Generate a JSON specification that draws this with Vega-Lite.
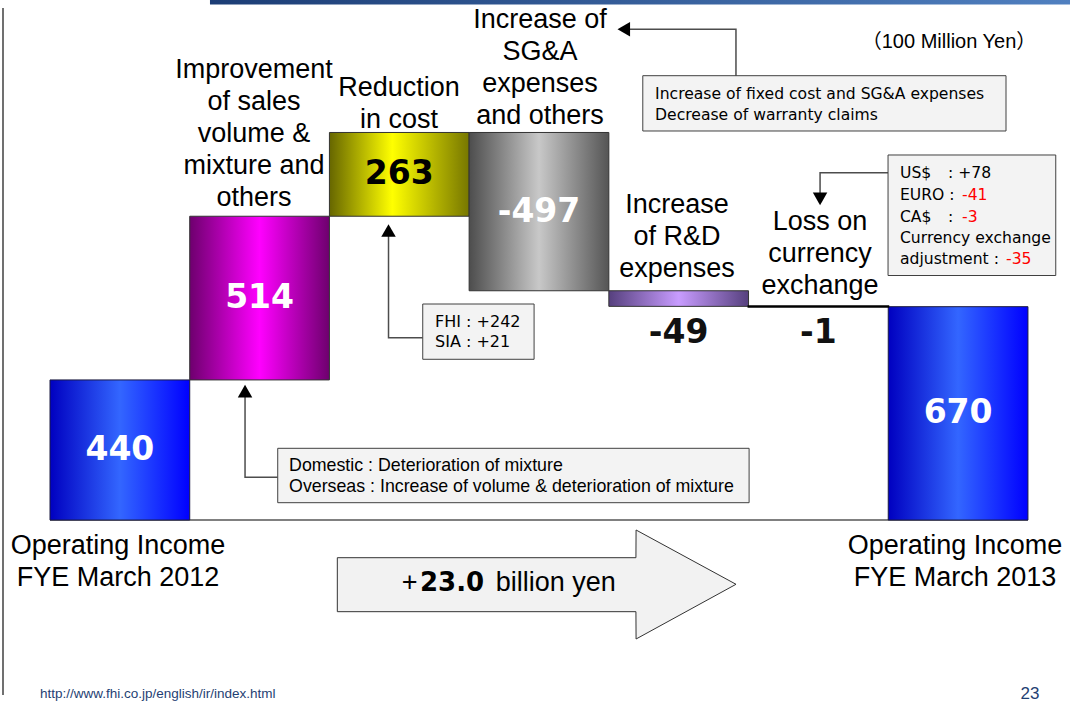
{
  "$schema": "https://vega.github.io/schema/vega-lite/v6.json",
  "width": 1070,
  "height": 707,
  "autosize": {"type": "fit", "contains": "padding"},
  "padding": 0,
  "background": "white",
  "config": {"view": {"stroke": null}},
  "datasets": {
    "bars": [
      {"step": 0, "name": "Operating Income FYE March 2012", "start": 0, "end": 440, "label": "440"},
      {"step": 1, "name": "Improvement of sales volume & mixture and others", "start": 440, "end": 954, "label": "514"},
      {"step": 2, "name": "Reduction in cost", "start": 954, "end": 1217, "label": "263"},
      {"step": 3, "name": "Increase of SG&A expenses and others", "start": 1217, "end": 720, "label": "-497"},
      {"step": 4, "name": "Increase of R&D expenses", "start": 720, "end": 671, "label": "-49"},
      {"step": 5, "name": "Loss on currency exchange", "start": 671, "end": 670, "label": "-1"},
      {"step": 6, "name": "Operating Income FYE March 2013", "start": 0, "end": 670, "label": "670"}
    ],
    "catLabels": [
      {"t": "Improvement\nof sales\nvolume &\nmixture and\nothers", "x": 1.46, "y": 1413.2},
      {"t": "Reduction\nin cost", "x": 2.498, "y": 1356.7},
      {"t": "Increase of\nSG&A\nexpenses\nand others", "x": 3.507, "y": 1570.2},
      {"t": "Increase\nof R&D\nexpenses", "x": 4.488, "y": 989.3},
      {"t": "Loss on\ncurrency\nexchange", "x": 5.512, "y": 936.9},
      {"t": "Operating Income\nFYE March 2012", "x": 0.487, "y": -81.4},
      {"t": "Operating Income\nFYE March 2013", "x": 6.478, "y": -81.4}
    ],
    "boxes": [
      {"id": "A", "x": 1.630, "x2": 5.004, "y": 225.3, "y2": 54.5},
      {"id": "B", "x": 2.668, "x2": 3.465, "y": 678.4, "y2": 504.8},
      {"id": "C", "x": 4.243, "x2": 6.843, "y": 1395.3, "y2": 1221.7},
      {"id": "D", "x": 5.9985, "x2": 7.199, "y": 1146.3, "y2": 767.9}
    ],
    "arrowLines": [
      {"id": "A", "o": 0, "x": 1.630, "y": 134.3},
      {"id": "A", "o": 1, "x": 1.396, "y": 134.3},
      {"id": "A", "o": 2, "x": 1.396, "y": 402},
      {"id": "B", "o": 0, "x": 2.668, "y": 572.6},
      {"id": "B", "o": 1, "x": 2.423, "y": 572.6},
      {"id": "B", "o": 2, "x": 2.423, "y": 905},
      {"id": "C", "o": 0, "x": 4.910, "y": 1394.4},
      {"id": "C", "o": 1, "x": 4.910, "y": 1541.0},
      {"id": "C", "o": 2, "x": 4.12, "y": 1541.0},
      {"id": "D", "o": 0, "x": 5.9985, "y": 1090.7},
      {"id": "D", "o": 1, "x": 5.512, "y": 1090.7},
      {"id": "D", "o": 2, "x": 5.512, "y": 1012}
    ],
    "arrowHeads": [
      {"dir": "up", "x": 1.396, "y": 404.9},
      {"dir": "up", "x": 2.423, "y": 909.5},
      {"dir": "left", "x": 4.107, "y": 1541.0},
      {"dir": "down", "x": 5.512, "y": 1008.5}
    ],
    "bigArrow": [
      {"x": 2.0565, "y": -118.2, "y2": -287.7},
      {"x": 4.1940, "y": -118.2, "y2": -287.7},
      {"x": 4.1950, "y": -31.2, "y2": -373.5},
      {"x": 4.9104, "y": -201.7, "y2": -201.7}
    ]
  },
  "layer": [
    {
      "data": {"values": [{"x": 1.145, "x2": 7.301, "y": 1633, "y2": 1618.9}]},
      "mark": {"type": "rect", "fill": {"gradient": "linear", "x1": 0, "y1": 0, "x2": 1, "y2": 0, "stops": [{"offset": 0, "color": "#1c3d75"}, {"offset": 1, "color": "#5080c0"}]}},
      "encoding": {
        "x": {"field": "x", "type": "quantitative", "scale": {"domain": [-0.358, 7.301], "nice": false, "zero": false}, "axis": null},
        "x2": {"field": "x2"},
        "y": {"field": "y", "type": "quantitative", "scale": {"domain": [-587, 1633], "nice": false, "zero": false}, "axis": null},
        "y2": {"field": "y2"}
      }
    },
    {
      "data": {"values": [{"x": -0.3365, "y": 1607.9, "y2": -549.3}]},
      "mark": {"type": "rule", "color": "#404040", "strokeWidth": 1.5},
      "encoding": {
        "x": {"field": "x", "type": "quantitative", "scale": {"domain": [-0.358, 7.301], "nice": false, "zero": false}, "axis": null},
        "y": {"field": "y", "type": "quantitative", "scale": {"domain": [-587, 1633], "nice": false, "zero": false}, "axis": null},
        "y2": {"field": "y2"}
      }
    },
    {
      "data": {"values": [{"x": 0, "x2": 7, "y": 0}]},
      "mark": {"type": "rule", "color": "#808080", "strokeWidth": 2},
      "encoding": {
        "x": {"field": "x", "type": "quantitative", "scale": {"domain": [-0.358, 7.301], "nice": false, "zero": false}, "axis": null},
        "x2": {"field": "x2"},
        "y": {"field": "y", "type": "quantitative", "scale": {"domain": [-587, 1633], "nice": false, "zero": false}, "axis": null}
      }
    },
    {
      "data": {"name": "bars"},
      "transform": [{"filter": "datum.step == 0 || datum.step == 6"}, {"calculate": "datum.step + 1", "as": "stepEnd"}],
      "mark": {"type": "rect", "stroke": "#1a1a40", "strokeWidth": 1, "fill": {"gradient": "linear", "x1": 0, "y1": 0, "x2": 1, "y2": 0, "stops": [{"offset": 0, "color": "#0000c0"}, {"offset": 0.5, "color": "#3366ff"}, {"offset": 1, "color": "#0000ff"}]}},
      "encoding": {
        "x": {"field": "step", "type": "quantitative", "scale": {"domain": [-0.358, 7.301], "nice": false, "zero": false}, "axis": null},
        "x2": {"field": "stepEnd"},
        "y": {"field": "start", "type": "quantitative", "scale": {"domain": [-587, 1633], "nice": false, "zero": false}, "axis": null},
        "y2": {"field": "end"}
      }
    },
    {
      "data": {"name": "bars"},
      "transform": [{"filter": "datum.step == 1"}, {"calculate": "datum.step + 1", "as": "stepEnd"}],
      "mark": {"type": "rect", "stroke": "#333333", "strokeWidth": 1, "fill": {"gradient": "linear", "x1": 0, "y1": 0, "x2": 1, "y2": 0, "stops": [{"offset": 0, "color": "#6e006e"}, {"offset": 0.5, "color": "#ff00ff"}, {"offset": 1, "color": "#6e006e"}]}},
      "encoding": {
        "x": {"field": "step", "type": "quantitative", "scale": {"domain": [-0.358, 7.301], "nice": false, "zero": false}, "axis": null},
        "x2": {"field": "stepEnd"},
        "y": {"field": "start", "type": "quantitative", "scale": {"domain": [-587, 1633], "nice": false, "zero": false}, "axis": null},
        "y2": {"field": "end"}
      }
    },
    {
      "data": {"name": "bars"},
      "transform": [{"filter": "datum.step == 2"}, {"calculate": "datum.step + 1", "as": "stepEnd"}],
      "mark": {"type": "rect", "stroke": "#333333", "strokeWidth": 1, "fill": {"gradient": "linear", "x1": 0, "y1": 0, "x2": 1, "y2": 0, "stops": [{"offset": 0, "color": "#666600"}, {"offset": 0.45, "color": "#ffff00"}, {"offset": 1, "color": "#777700"}]}},
      "encoding": {
        "x": {"field": "step", "type": "quantitative", "scale": {"domain": [-0.358, 7.301], "nice": false, "zero": false}, "axis": null},
        "x2": {"field": "stepEnd"},
        "y": {"field": "start", "type": "quantitative", "scale": {"domain": [-587, 1633], "nice": false, "zero": false}, "axis": null},
        "y2": {"field": "end"}
      }
    },
    {
      "data": {"name": "bars"},
      "transform": [{"filter": "datum.step == 3"}, {"calculate": "datum.step + 1", "as": "stepEnd"}],
      "mark": {"type": "rect", "stroke": "#333333", "strokeWidth": 1, "fill": {"gradient": "linear", "x1": 0, "y1": 0, "x2": 1, "y2": 0, "stops": [{"offset": 0, "color": "#4d4d4d"}, {"offset": 0.5, "color": "#c8c8c8"}, {"offset": 1, "color": "#555555"}]}},
      "encoding": {
        "x": {"field": "step", "type": "quantitative", "scale": {"domain": [-0.358, 7.301], "nice": false, "zero": false}, "axis": null},
        "x2": {"field": "stepEnd"},
        "y": {"field": "start", "type": "quantitative", "scale": {"domain": [-587, 1633], "nice": false, "zero": false}, "axis": null},
        "y2": {"field": "end"}
      }
    },
    {
      "data": {"name": "bars"},
      "transform": [{"filter": "datum.step == 4"}, {"calculate": "datum.step + 1", "as": "stepEnd"}],
      "mark": {"type": "rect", "stroke": "#333333", "strokeWidth": 1, "fill": {"gradient": "linear", "x1": 0, "y1": 0, "x2": 1, "y2": 0, "stops": [{"offset": 0, "color": "#56407e"}, {"offset": 0.5, "color": "#c89cff"}, {"offset": 1, "color": "#56407e"}]}},
      "encoding": {
        "x": {"field": "step", "type": "quantitative", "scale": {"domain": [-0.358, 7.301], "nice": false, "zero": false}, "axis": null},
        "x2": {"field": "stepEnd"},
        "y": {"field": "start", "type": "quantitative", "scale": {"domain": [-587, 1633], "nice": false, "zero": false}, "axis": null},
        "y2": {"field": "end"}
      }
    },
    {
      "data": {"name": "bars"},
      "transform": [{"filter": "datum.step == 5"}, {"calculate": "datum.step + 1", "as": "stepEnd"}],
      "mark": {"type": "rect", "stroke": "#000000", "strokeWidth": 2, "fill": "#000000"},
      "encoding": {
        "x": {"field": "step", "type": "quantitative", "scale": {"domain": [-0.358, 7.301], "nice": false, "zero": false}, "axis": null},
        "x2": {"field": "stepEnd"},
        "y": {"field": "start", "type": "quantitative", "scale": {"domain": [-587, 1633], "nice": false, "zero": false}, "axis": null},
        "y2": {"field": "end"}
      }
    },
    {
      "data": {"name": "bars"},
      "transform": [{"filter": "datum.step == 0 || datum.step == 1 || datum.step == 3 || datum.step == 6"}, {"calculate": "datum.step + 0.5", "as": "cx"}, {"calculate": "(datum.start + datum.end) / 2", "as": "mid"}],
      "mark": {"type": "text", "font": "DejaVu Sans", "fontWeight": "bold", "fontSize": 33, "color": "#ffffff", "align": "center", "baseline": "middle"},
      "encoding": {
        "x": {"field": "cx", "type": "quantitative", "scale": {"domain": [-0.358, 7.301], "nice": false, "zero": false}, "axis": null},
        "y": {"field": "mid", "type": "quantitative", "scale": {"domain": [-587, 1633], "nice": false, "zero": false}, "axis": null},
        "text": {"field": "label"}
      }
    },
    {
      "data": {"name": "bars"},
      "transform": [{"filter": "datum.step == 2"}, {"calculate": "datum.step + 0.5", "as": "cx"}, {"calculate": "(datum.start + datum.end) / 2", "as": "mid"}],
      "mark": {"type": "text", "font": "DejaVu Sans", "fontWeight": "bold", "fontSize": 33, "color": "#000000", "align": "center", "baseline": "middle"},
      "encoding": {
        "x": {"field": "cx", "type": "quantitative", "scale": {"domain": [-0.358, 7.301], "nice": false, "zero": false}, "axis": null},
        "y": {"field": "mid", "type": "quantitative", "scale": {"domain": [-587, 1633], "nice": false, "zero": false}, "axis": null},
        "text": {"field": "label"}
      }
    },
    {
      "data": {"name": "bars"},
      "transform": [{"filter": "datum.step == 4 || datum.step == 5"}, {"calculate": "datum.step + 0.5", "as": "cx"}],
      "mark": {"type": "text", "font": "DejaVu Sans", "fontWeight": "bold", "fontSize": 33, "color": "#111111", "align": "center", "baseline": "middle"},
      "encoding": {
        "x": {"field": "cx", "type": "quantitative", "scale": {"domain": [-0.358, 7.301], "nice": false, "zero": false}, "axis": null},
        "y": {"datum": 587.4, "type": "quantitative", "scale": {"domain": [-587, 1633], "nice": false, "zero": false}, "axis": null},
        "text": {"field": "label"}
      }
    },
    {
      "data": {"name": "catLabels"},
      "mark": {"type": "text", "font": "Liberation Sans", "fontSize": 27, "lineHeight": 32, "lineBreak": "\n", "color": "#000000", "align": "center", "baseline": "middle"},
      "encoding": {
        "x": {"field": "x", "type": "quantitative", "scale": {"domain": [-0.358, 7.301], "nice": false, "zero": false}, "axis": null},
        "y": {"field": "y", "type": "quantitative", "scale": {"domain": [-587, 1633], "nice": false, "zero": false}, "axis": null},
        "text": {"field": "t"}
      }
    },
    {
      "data": {"name": "arrowLines"},
      "mark": {"type": "line", "color": "#4d4d4d", "strokeWidth": 1.5},
      "encoding": {
        "x": {"field": "x", "type": "quantitative", "scale": {"domain": [-0.358, 7.301], "nice": false, "zero": false}, "axis": null},
        "y": {"field": "y", "type": "quantitative", "scale": {"domain": [-587, 1633], "nice": false, "zero": false}, "axis": null},
        "detail": {"field": "id"},
        "order": {"field": "o"}
      }
    },
    {
      "data": {"name": "arrowHeads"},
      "mark": {"type": "point", "filled": true, "color": "#000000", "opacity": 1, "size": 210, "strokeWidth": 0},
      "encoding": {
        "x": {"field": "x", "type": "quantitative", "scale": {"domain": [-0.358, 7.301], "nice": false, "zero": false}, "axis": null},
        "y": {"field": "y", "type": "quantitative", "scale": {"domain": [-587, 1633], "nice": false, "zero": false}, "axis": null},
        "shape": {"field": "dir", "type": "nominal", "scale": {"domain": ["up", "left", "down"], "range": ["triangle-up", "triangle-left", "triangle-down"]}, "legend": null}
      }
    },
    {
      "data": {"name": "boxes"},
      "mark": {"type": "rect", "fill": "#f3f3f3", "stroke": "#404040", "strokeWidth": 1},
      "encoding": {
        "x": {"field": "x", "type": "quantitative", "scale": {"domain": [-0.358, 7.301], "nice": false, "zero": false}, "axis": null},
        "x2": {"field": "x2"},
        "y": {"field": "y", "type": "quantitative", "scale": {"domain": [-587, 1633], "nice": false, "zero": false}, "axis": null},
        "y2": {"field": "y2"}
      }
    },
    {
      "data": {"values": [
        {"t": "Domestic : Deterioration of mixture", "x": 1.711, "y": 169.8},
        {"t": "Overseas : Increase of volume & deterioration of mixture", "x": 1.711, "y": 104.8}
      ]},
      "mark": {"type": "text", "font": "Liberation Sans", "fontSize": 17.8, "color": "#000000", "align": "left", "baseline": "middle"},
      "encoding": {
        "x": {"field": "x", "type": "quantitative", "scale": {"domain": [-0.358, 7.301], "nice": false, "zero": false}, "axis": null},
        "y": {"field": "y", "type": "quantitative", "scale": {"domain": [-587, 1633], "nice": false, "zero": false}, "axis": null},
        "text": {"field": "t"}
      }
    },
    {
      "data": {"values": [
        {"t": "FHI : +242", "x": 2.756, "y": 621.0},
        {"t": "SIA : +21", "x": 2.756, "y": 558.2}
      ]},
      "mark": {"type": "text", "font": "DejaVu Sans", "fontSize": 16, "color": "#000000", "align": "left", "baseline": "middle"},
      "encoding": {
        "x": {"field": "x", "type": "quantitative", "scale": {"domain": [-0.358, 7.301], "nice": false, "zero": false}, "axis": null},
        "y": {"field": "y", "type": "quantitative", "scale": {"domain": [-587, 1633], "nice": false, "zero": false}, "axis": null},
        "text": {"field": "t"}
      }
    },
    {
      "data": {"values": [
        {"t": "Increase of fixed cost and SG&A expenses", "x": 4.331, "y": 1336.3},
        {"t": "Decrease of warranty claims", "x": 4.331, "y": 1271.9},
        {"t": "US$", "x": 6.084, "y": 1088.8},
        {"t": ": +78", "x": 6.428, "y": 1088.8},
        {"t": "EURO :", "x": 6.084, "y": 1020.7},
        {"t": "CA$", "x": 6.084, "y": 952.6},
        {"t": ":", "x": 6.428, "y": 952.6},
        {"t": "Currency exchange", "x": 6.084, "y": 884.7},
        {"t": "adjustment :", "x": 6.084, "y": 819.7}
      ]},
      "mark": {"type": "text", "font": "DejaVu Sans", "fontSize": 15.6, "color": "#000000", "align": "left", "baseline": "middle"},
      "encoding": {
        "x": {"field": "x", "type": "quantitative", "scale": {"domain": [-0.358, 7.301], "nice": false, "zero": false}, "axis": null},
        "y": {"field": "y", "type": "quantitative", "scale": {"domain": [-587, 1633], "nice": false, "zero": false}, "axis": null},
        "text": {"field": "t"}
      }
    },
    {
      "data": {"values": [
        {"t": "-41", "x": 6.528, "y": 1020.7},
        {"t": "-3", "x": 6.528, "y": 952.6},
        {"t": "-35", "x": 6.843, "y": 819.7}
      ]},
      "mark": {"type": "text", "font": "DejaVu Sans", "fontSize": 15.6, "color": "#ff0000", "align": "left", "baseline": "middle"},
      "encoding": {
        "x": {"field": "x", "type": "quantitative", "scale": {"domain": [-0.358, 7.301], "nice": false, "zero": false}, "axis": null},
        "y": {"field": "y", "type": "quantitative", "scale": {"domain": [-587, 1633], "nice": false, "zero": false}, "axis": null},
        "text": {"field": "t"}
      }
    },
    {
      "data": {"name": "bigArrow"},
      "mark": {"type": "area", "fill": "#f2f2f2", "stroke": "#333333", "strokeWidth": 1, "opacity": 1},
      "encoding": {
        "x": {"field": "x", "type": "quantitative", "scale": {"domain": [-0.358, 7.301], "nice": false, "zero": false}, "axis": null},
        "y": {"field": "y", "type": "quantitative", "scale": {"domain": [-587, 1633], "nice": false, "zero": false}, "axis": null},
        "y2": {"field": "y2"}
      }
    },
    {
      "data": {"values": [
        {"t": "+", "x": 2.517, "y": -199.2},
        {"t": "billion yen", "x": 3.19, "y": -199.2}
      ]},
      "mark": {"type": "text", "font": "Liberation Sans", "fontSize": 27, "color": "#000000", "align": "left", "baseline": "middle"},
      "encoding": {
        "x": {"field": "x", "type": "quantitative", "scale": {"domain": [-0.358, 7.301], "nice": false, "zero": false}, "axis": null},
        "y": {"field": "y", "type": "quantitative", "scale": {"domain": [-587, 1633], "nice": false, "zero": false}, "axis": null},
        "text": {"field": "t"}
      }
    },
    {
      "data": {"values": [{"t": "23.0", "x": 2.648, "y": -199.2}]},
      "mark": {"type": "text", "font": "DejaVu Sans", "fontWeight": "bold", "fontSize": 26, "color": "#000000", "align": "left", "baseline": "middle"},
      "encoding": {
        "x": {"field": "x", "type": "quantitative", "scale": {"domain": [-0.358, 7.301], "nice": false, "zero": false}, "axis": null},
        "y": {"field": "y", "type": "quantitative", "scale": {"domain": [-587, 1633], "nice": false, "zero": false}, "axis": null},
        "text": {"field": "t"}
      }
    },
    {
      "data": {"values": [{"t": "（100 Million Yen）", "x": 6.435, "y": 1501.1}]},
      "mark": {"type": "text", "font": "Liberation Sans, Noto Sans CJK JP", "fontSize": 20, "color": "#000000", "align": "center", "baseline": "middle"},
      "encoding": {
        "x": {"field": "x", "type": "quantitative", "scale": {"domain": [-0.358, 7.301], "nice": false, "zero": false}, "axis": null},
        "y": {"field": "y", "type": "quantitative", "scale": {"domain": [-587, 1633], "nice": false, "zero": false}, "axis": null},
        "text": {"field": "t"}
      }
    },
    {
      "data": {"values": [{"t": "http://www.fhi.co.jp/english/ir/index.html", "x": -0.0717, "y": -546.2}]},
      "mark": {"type": "text", "font": "Liberation Sans", "fontSize": 13.5, "color": "#1f3f73", "align": "left", "baseline": "middle"},
      "encoding": {
        "x": {"field": "x", "type": "quantitative", "scale": {"domain": [-0.358, 7.301], "nice": false, "zero": false}, "axis": null},
        "y": {"field": "y", "type": "quantitative", "scale": {"domain": [-587, 1633], "nice": false, "zero": false}, "axis": null},
        "text": {"field": "t"}
      }
    },
    {
      "data": {"values": [{"t": "23", "x": 7.015, "y": -546.2}]},
      "mark": {"type": "text", "font": "Liberation Sans", "fontSize": 17, "color": "#1f3f73", "align": "center", "baseline": "middle"},
      "encoding": {
        "x": {"field": "x", "type": "quantitative", "scale": {"domain": [-0.358, 7.301], "nice": false, "zero": false}, "axis": null},
        "y": {"field": "y", "type": "quantitative", "scale": {"domain": [-587, 1633], "nice": false, "zero": false}, "axis": null},
        "text": {"field": "t"}
      }
    }
  ]
}
